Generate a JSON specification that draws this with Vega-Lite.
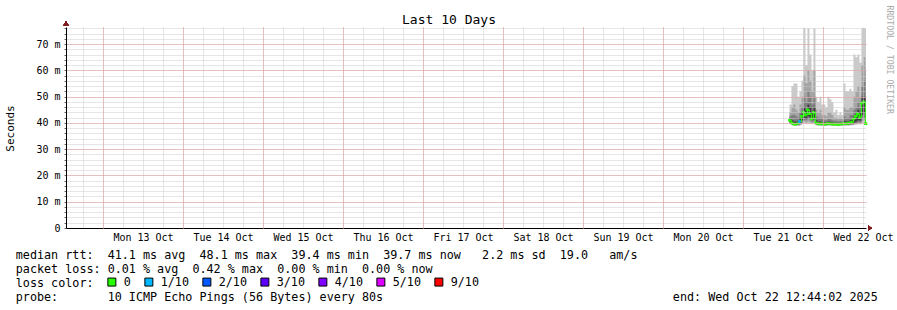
{
  "$schema": "https://vega.github.io/schema/vega-lite/v6.json",
  "width": 800,
  "height": 201,
  "autosize": {"type": "none"},
  "padding": {"left": 66, "top": 27, "right": 31, "bottom": 82},
  "background": "white",
  "config": {"view": {"stroke": null}},
  "data": {"values": [
    {"t": "2025-10-21T13:56:00Z", "mn": 39.5, "mx": 47, "a1": 39.8, "a2": 44, "b1": 40, "b2": 42.5, "c1": 40.3, "c2": 41.5, "med": 41, "loss": "0"},
    {"t": "2025-10-21T14:32:00Z", "mn": 39, "mx": 54, "a1": 39.3, "a2": 46, "b1": 39.6, "b2": 43, "c1": 39.8, "c2": 41, "med": 40, "loss": "0"},
    {"t": "2025-10-21T15:08:00Z", "mn": 38.8, "mx": 55, "a1": 39, "a2": 47, "b1": 39.2, "b2": 43, "c1": 39.4, "c2": 40.5, "med": 39.6, "loss": "0"},
    {"t": "2025-10-21T15:44:00Z", "mn": 38.8, "mx": 55, "a1": 39, "a2": 45, "b1": 39.2, "b2": 42.5, "c1": 39.4, "c2": 40.5, "med": 39.5, "loss": "0"},
    {"t": "2025-10-21T16:20:00Z", "mn": 38.8, "mx": 50, "a1": 39, "a2": 44, "b1": 39.2, "b2": 42, "c1": 39.4, "c2": 40.5, "med": 39.7, "loss": "0"},
    {"t": "2025-10-21T16:56:00Z", "mn": 39, "mx": 52, "a1": 39.3, "a2": 47, "b1": 39.6, "b2": 44, "c1": 40, "c2": 42, "med": 40.5, "loss": "1/10"},
    {"t": "2025-10-21T17:32:00Z", "mn": 39.5, "mx": 56, "a1": 40, "a2": 50, "b1": 40.5, "b2": 46, "c1": 41, "c2": 44, "med": 42.5, "loss": "0"},
    {"t": "2025-10-21T18:08:00Z", "mn": 39.8, "mx": 76, "a1": 40.5, "a2": 58, "b1": 41, "b2": 50, "c1": 42, "c2": 46, "med": 44, "loss": "0"},
    {"t": "2025-10-21T18:44:00Z", "mn": 39.6, "mx": 62, "a1": 40.2, "a2": 55, "b1": 41, "b2": 48, "c1": 41.5, "c2": 45, "med": 43, "loss": "0"},
    {"t": "2025-10-21T19:20:00Z", "mn": 39.8, "mx": 76, "a1": 40.5, "a2": 60, "b1": 41.5, "b2": 52, "c1": 42.5, "c2": 47, "med": 45, "loss": "0"},
    {"t": "2025-10-21T19:56:00Z", "mn": 39.6, "mx": 66, "a1": 40.2, "a2": 56, "b1": 41, "b2": 50, "c1": 42, "c2": 46, "med": 43.5, "loss": "0"},
    {"t": "2025-10-21T20:32:00Z", "mn": 39.5, "mx": 60, "a1": 40, "a2": 52, "b1": 40.5, "b2": 47, "c1": 41, "c2": 44, "med": 41.5, "loss": "0"},
    {"t": "2025-10-21T21:08:00Z", "mn": 39.6, "mx": 76, "a1": 40.3, "a2": 60, "b1": 41, "b2": 50, "c1": 42, "c2": 46, "med": 44, "loss": "0"},
    {"t": "2025-10-21T21:44:00Z", "mn": 39, "mx": 50, "a1": 39.3, "a2": 45, "b1": 39.5, "b2": 42.5, "c1": 39.7, "c2": 41, "med": 40, "loss": "0"},
    {"t": "2025-10-21T22:20:00Z", "mn": 38.9, "mx": 48, "a1": 39.1, "a2": 44, "b1": 39.3, "b2": 42, "c1": 39.5, "c2": 40.5, "med": 39.8, "loss": "0"},
    {"t": "2025-10-21T22:56:00Z", "mn": 38.9, "mx": 50, "a1": 39.1, "a2": 45, "b1": 39.3, "b2": 42, "c1": 39.5, "c2": 40.5, "med": 39.6, "loss": "0"},
    {"t": "2025-10-21T23:32:00Z", "mn": 38.8, "mx": 47, "a1": 39, "a2": 43, "b1": 39.2, "b2": 41.5, "c1": 39.4, "c2": 40.3, "med": 39.7, "loss": "0"},
    {"t": "2025-10-22T00:08:00Z", "mn": 38.8, "mx": 47, "a1": 39, "a2": 43, "b1": 39.2, "b2": 41, "c1": 39.4, "c2": 40.2, "med": 39.6, "loss": "0"},
    {"t": "2025-10-22T00:44:00Z", "mn": 38.8, "mx": 46, "a1": 39, "a2": 42.5, "b1": 39.2, "b2": 41, "c1": 39.4, "c2": 40.2, "med": 39.5, "loss": "0"},
    {"t": "2025-10-22T01:20:00Z", "mn": 38.9, "mx": 50, "a1": 39.1, "a2": 44, "b1": 39.3, "b2": 41.5, "c1": 39.5, "c2": 40.5, "med": 39.8, "loss": "0"},
    {"t": "2025-10-22T01:56:00Z", "mn": 38.9, "mx": 49, "a1": 39.1, "a2": 44, "b1": 39.3, "b2": 41.5, "c1": 39.5, "c2": 40.4, "med": 39.7, "loss": "0"},
    {"t": "2025-10-22T02:32:00Z", "mn": 38.8, "mx": 48, "a1": 39, "a2": 43, "b1": 39.2, "b2": 41, "c1": 39.4, "c2": 40.2, "med": 39.6, "loss": "0"},
    {"t": "2025-10-22T03:08:00Z", "mn": 38.8, "mx": 44, "a1": 39, "a2": 42, "b1": 39.2, "b2": 40.8, "c1": 39.4, "c2": 40.1, "med": 39.5, "loss": "0"},
    {"t": "2025-10-22T03:44:00Z", "mn": 38.8, "mx": 45, "a1": 39, "a2": 42, "b1": 39.2, "b2": 40.8, "c1": 39.4, "c2": 40.1, "med": 39.6, "loss": "0"},
    {"t": "2025-10-22T04:20:00Z", "mn": 38.7, "mx": 43, "a1": 38.9, "a2": 41.5, "b1": 39.1, "b2": 40.5, "c1": 39.3, "c2": 40, "med": 39.4, "loss": "0"},
    {"t": "2025-10-22T04:56:00Z", "mn": 38.8, "mx": 44, "a1": 39, "a2": 42, "b1": 39.2, "b2": 40.8, "c1": 39.4, "c2": 40.1, "med": 39.5, "loss": "0"},
    {"t": "2025-10-22T05:32:00Z", "mn": 38.8, "mx": 43, "a1": 39, "a2": 41.5, "b1": 39.2, "b2": 40.5, "c1": 39.4, "c2": 40, "med": 39.6, "loss": "0"},
    {"t": "2025-10-22T06:08:00Z", "mn": 38.9, "mx": 55, "a1": 39.1, "a2": 46, "b1": 39.3, "b2": 42.5, "c1": 39.5, "c2": 40.8, "med": 39.8, "loss": "0"},
    {"t": "2025-10-22T06:44:00Z", "mn": 38.9, "mx": 52, "a1": 39.1, "a2": 45, "b1": 39.3, "b2": 42, "c1": 39.5, "c2": 40.5, "med": 39.7, "loss": "0"},
    {"t": "2025-10-22T07:20:00Z", "mn": 38.9, "mx": 52, "a1": 39.1, "a2": 45, "b1": 39.3, "b2": 42, "c1": 39.5, "c2": 40.6, "med": 39.8, "loss": "0"},
    {"t": "2025-10-22T07:56:00Z", "mn": 39, "mx": 53, "a1": 39.2, "a2": 46, "b1": 39.4, "b2": 43, "c1": 39.6, "c2": 41, "med": 40, "loss": "0"},
    {"t": "2025-10-22T08:32:00Z", "mn": 39, "mx": 52, "a1": 39.2, "a2": 46, "b1": 39.5, "b2": 43, "c1": 39.7, "c2": 41, "med": 40.2, "loss": "0"},
    {"t": "2025-10-22T09:08:00Z", "mn": 39.2, "mx": 66, "a1": 39.5, "a2": 50, "b1": 39.8, "b2": 45, "c1": 40.2, "c2": 42.5, "med": 41.5, "loss": "0"},
    {"t": "2025-10-22T09:44:00Z", "mn": 39.3, "mx": 65, "a1": 39.6, "a2": 52, "b1": 40, "b2": 46, "c1": 40.5, "c2": 43.5, "med": 42.5, "loss": "0"},
    {"t": "2025-10-22T10:20:00Z", "mn": 39.5, "mx": 66, "a1": 39.8, "a2": 54, "b1": 40.3, "b2": 48, "c1": 41, "c2": 45, "med": 43.5, "loss": "0"},
    {"t": "2025-10-22T10:56:00Z", "mn": 39.4, "mx": 63, "a1": 39.8, "a2": 50, "b1": 40.2, "b2": 46, "c1": 40.8, "c2": 44, "med": 42, "loss": "0"},
    {"t": "2025-10-22T11:32:00Z", "mn": 39.8, "mx": 76, "a1": 40.5, "a2": 62, "b1": 41.5, "b2": 54, "c1": 43, "c2": 50, "med": 47.5, "loss": "0"},
    {"t": "2025-10-22T12:08:00Z", "mn": 40, "mx": 76, "a1": 41, "a2": 65, "b1": 42, "b2": 56, "c1": 44, "c2": 50, "med": 48, "loss": "0"},
    {"t": "2025-10-22T12:44:00Z", "mn": 39.3, "mx": 76, "a1": 39.6, "a2": 60, "b1": 40, "b2": 50, "c1": 40.5, "c2": 45, "med": 39.7, "loss": "0"},
    {"t": "2025-10-22T12:54:00Z", "mn": 39.3, "mx": 76, "a1": 39.6, "a2": 60, "b1": 40, "b2": 50, "c1": 40.5, "c2": 45, "med": 39.7, "loss": "0"}
  ]},
  "resolve": {"axis": {"x": "independent", "y": "independent"}},
  "layer": [
    {
      "mark": {"type": "area", "interpolate": "step-after", "color": "#cacaca", "opacity": 1},
      "encoding": {
        "x": {
          "field": "t", "type": "temporal",
          "scale": {"type": "utc", "domain": [1760273640000, 1761137640000], "nice": false},
          "axis": {
            "orient": "bottom",
            "values": [1760292000000,1760313600000,1760335200000,1760356800000,1760378400000,1760400000000,1760421600000,1760443200000,1760464800000,1760486400000,1760508000000,1760529600000,1760551200000,1760572800000,1760594400000,1760616000000,1760637600000,1760659200000,1760680800000,1760702400000,1760724000000,1760745600000,1760767200000,1760788800000,1760810400000,1760832000000,1760853600000,1760875200000,1760896800000,1760918400000,1760940000000,1760961600000,1760983200000,1761004800000,1761026400000,1761048000000,1761069600000,1761091200000,1761112800000,1761134400000],
            "domain": true, "domainColor": "#000000", "domainWidth": 1,
            "ticks": false,
            "grid": true, "gridDash": [1, 1], "gridOpacity": 1, "gridColor": "#cccccc",
            "labelExpr": "utchours(datum.value) == 12 ? utcFormat(datum.value, '%a %d %b') : ''",
            "labelFont": "DejaVu Sans Mono", "labelFontSize": 10, "labelColor": "#000000",
            "labelPadding": 4, "labelOverlap": false, "labelFlush": false,
            "zindex": 1,
            "title": [
              "median rtt:\u00a0\u00a041.1\u00a0ms\u00a0avg\u00a0\u00a048.1\u00a0ms\u00a0max\u00a0\u00a039.4\u00a0ms\u00a0min\u00a0\u00a039.7\u00a0ms\u00a0now\u00a0\u00a0\u00a02.2\u00a0ms\u00a0sd\u00a0\u00a019.0\u00a0\u00a0\u00a0am/s",
              "packet loss:\u00a00.01\u00a0%\u00a0avg\u00a0\u00a00.42\u00a0%\u00a0max\u00a0\u00a00.00\u00a0%\u00a0min\u00a0\u00a00.00\u00a0%\u00a0now",
              "loss color:",
              "probe:\u00a0\u00a0\u00a0\u00a0\u00a0\u00a0\u00a010\u00a0ICMP\u00a0Echo\u00a0Pings\u00a0(56\u00a0Bytes)\u00a0every\u00a080s\u00a0\u00a0\u00a0\u00a0\u00a0\u00a0\u00a0\u00a0\u00a0\u00a0\u00a0\u00a0\u00a0\u00a0\u00a0\u00a0\u00a0\u00a0\u00a0\u00a0\u00a0\u00a0\u00a0\u00a0\u00a0\u00a0\u00a0\u00a0\u00a0\u00a0\u00a0\u00a0\u00a0\u00a0\u00a0\u00a0\u00a0\u00a0\u00a0\u00a0\u00a0end:\u00a0Wed\u00a0Oct\u00a022\u00a012:44:02\u00a02025"
            ],
            "titleFont": "DejaVu Sans Mono", "titleFontSize": 11.74, "titleFontWeight": "normal", "titleColor": "#000000",
            "titleAlign": "left", "titleBaseline": "alphabetic",
            "titleX": -50.7, "titleY": 30.3, "titleLineHeight": 14
          }
        },
        "y": {
          "field": "mn", "type": "quantitative",
          "scale": {"domain": [0, 76.5], "nice": false, "zero": false},
          "axis": {
            "orient": "left",
            "values": [0,2,4,6,8,10,12,14,16,18,20,22,24,26,28,30,32,34,36,38,40,42,44,46,48,50,52,54,56,58,60,62,64,66,68,70,72,74,76],
            "domain": true, "domainColor": "#000000",
            "ticks": true, "tickSize": 2, "tickColor": "#666666",
            "grid": true, "gridDash": [1, 1], "gridOpacity": 1, "gridColor": "#cccccc",
            "labelExpr": "datum.value % 10 == 0 ? (datum.value == 0 ? '0' : datum.value + ' m') : ''",
            "labelFont": "DejaVu Sans Mono", "labelFontSize": 10, "labelColor": "#000000",
            "labelPadding": 4, "labelOverlap": false, "labelFlush": false,
            "zindex": 1,
            "title": "Seconds",
            "titleFont": "DejaVu Sans Mono", "titleFontSize": 11, "titleFontWeight": "normal", "titleColor": "#000000",
            "titleAngle": -90, "titleAlign": "center", "titleBaseline": "middle",
            "titleX": -56, "titleY": 101
          }
        },
        "y2": {"field": "mx"}
      }
    },
    {
      "mark": {"type": "area", "interpolate": "step-after", "color": "#a4a4a4", "opacity": 1},
      "encoding": {
        "x": {
          "field": "t", "type": "temporal",
          "axis": {
            "orient": "top", "domain": false, "ticks": false, "labels": false, "grid": false,
            "title": "Last 10 Days",
            "titleFont": "DejaVu Sans Mono", "titleFontSize": 13, "titleFontWeight": "normal", "titleColor": "#000000",
            "titleAlign": "center", "titleBaseline": "alphabetic",
            "titleX": 382.5, "titleY": -3.7
          }
        },
        "y": {"field": "a1", "type": "quantitative", "axis": null},
        "y2": {"field": "a2"}
      }
    },
    {
      "mark": {"type": "area", "interpolate": "step-after", "color": "#7e7e7e", "opacity": 1},
      "encoding": {
        "x": {
          "field": "t", "type": "temporal",
          "axis": {
            "orient": "top", "domain": false, "ticks": false, "labels": false, "title": null,
            "values": [1760313600000,1760400000000,1760486400000,1760572800000,1760659200000,1760745600000,1760832000000,1760918400000,1761004800000,1761091200000],
            "grid": true, "gridDash": [1, 1], "gridOpacity": 1, "gridColor": "#e49a9a", "zindex": 2
          }
        },
        "y": {
          "field": "b1", "type": "quantitative",
          "axis": {
            "orient": "right", "domain": false, "ticks": false, "labels": false, "title": null,
            "values": [10, 20, 30, 40, 50, 60, 70],
            "grid": true, "gridDash": [1, 1], "gridOpacity": 1, "gridColor": "#e49a9a", "zindex": 2
          }
        },
        "y2": {"field": "b2"}
      }
    },
    {
      "mark": {"type": "area", "interpolate": "step-after", "color": "#404040", "opacity": 1},
      "encoding": {
        "x": {"field": "t", "type": "temporal", "axis": null},
        "y": {"field": "c1", "type": "quantitative", "axis": null},
        "y2": {"field": "c2"}
      }
    },
    {
      "mark": {"type": "line", "interpolate": "step-after", "color": "#26ff00", "strokeWidth": 1},
      "encoding": {
        "x": {"field": "t", "type": "temporal", "axis": null},
        "y": {"field": "med", "type": "quantitative", "axis": null}
      }
    },
    {
      "mark": {"type": "point", "shape": "triangle-up", "filled": true, "color": "#7f1e1e", "size": 22, "opacity": 1},
      "encoding": {
        "x": {"datum": 1760273640000, "type": "temporal", "axis": null},
        "y": {"datum": 77.9, "type": "quantitative", "axis": null}
      }
    },
    {
      "mark": {"type": "point", "shape": "triangle-right", "filled": true, "color": "#7f1e1e", "size": 22, "opacity": 1},
      "encoding": {
        "x": {"datum": 1761141960000, "type": "temporal", "axis": null},
        "y": {"datum": 0, "type": "quantitative", "axis": null}
      }
    },
    {
      "mark": {"type": "point", "shape": "square", "filled": true, "size": 7, "opacity": 1},
      "encoding": {
        "x": {"field": "t", "type": "temporal", "axis": null},
        "y": {
          "field": "med", "type": "quantitative",
          "axis": {
            "orient": "right", "domain": false, "ticks": false, "labels": false, "grid": false,
            "title": "RRDTOOL / TOBI OETIKER",
            "titleFont": "DejaVu Sans Mono", "titleFontSize": 8.2, "titleFontWeight": "normal", "titleColor": "#aaaaaa",
            "titleAngle": 90, "titleAlign": "left", "titleBaseline": "middle",
            "titleX": 22.5, "titleY": -22
          }
        },
        "color": {
          "field": "loss", "type": "nominal",
          "scale": {
            "domain": ["0", "1/10", "2/10", "3/10", "4/10", "5/10", "9/10"],
            "range": ["#26ff00", "#00b8ff", "#0059ff", "#5e00ff", "#7e00ff", "#dd00ff", "#ff0000"]
          },
          "legend": {
            "orient": "none", "legendX": 40, "legendY": 249,
            "direction": "horizontal", "title": null, "padding": 0,
            "symbolType": "square", "symbolSize": 64,
            "symbolStrokeColor": "#000000", "symbolStrokeWidth": 1, "symbolOpacity": 1,
            "labelFont": "DejaVu Sans Mono", "labelFontSize": 11.74, "labelColor": "#000000",
            "labelOffset": 6, "columnPadding": 11, "labelLimit": 0
          }
        }
      }
    }
  ]
}
